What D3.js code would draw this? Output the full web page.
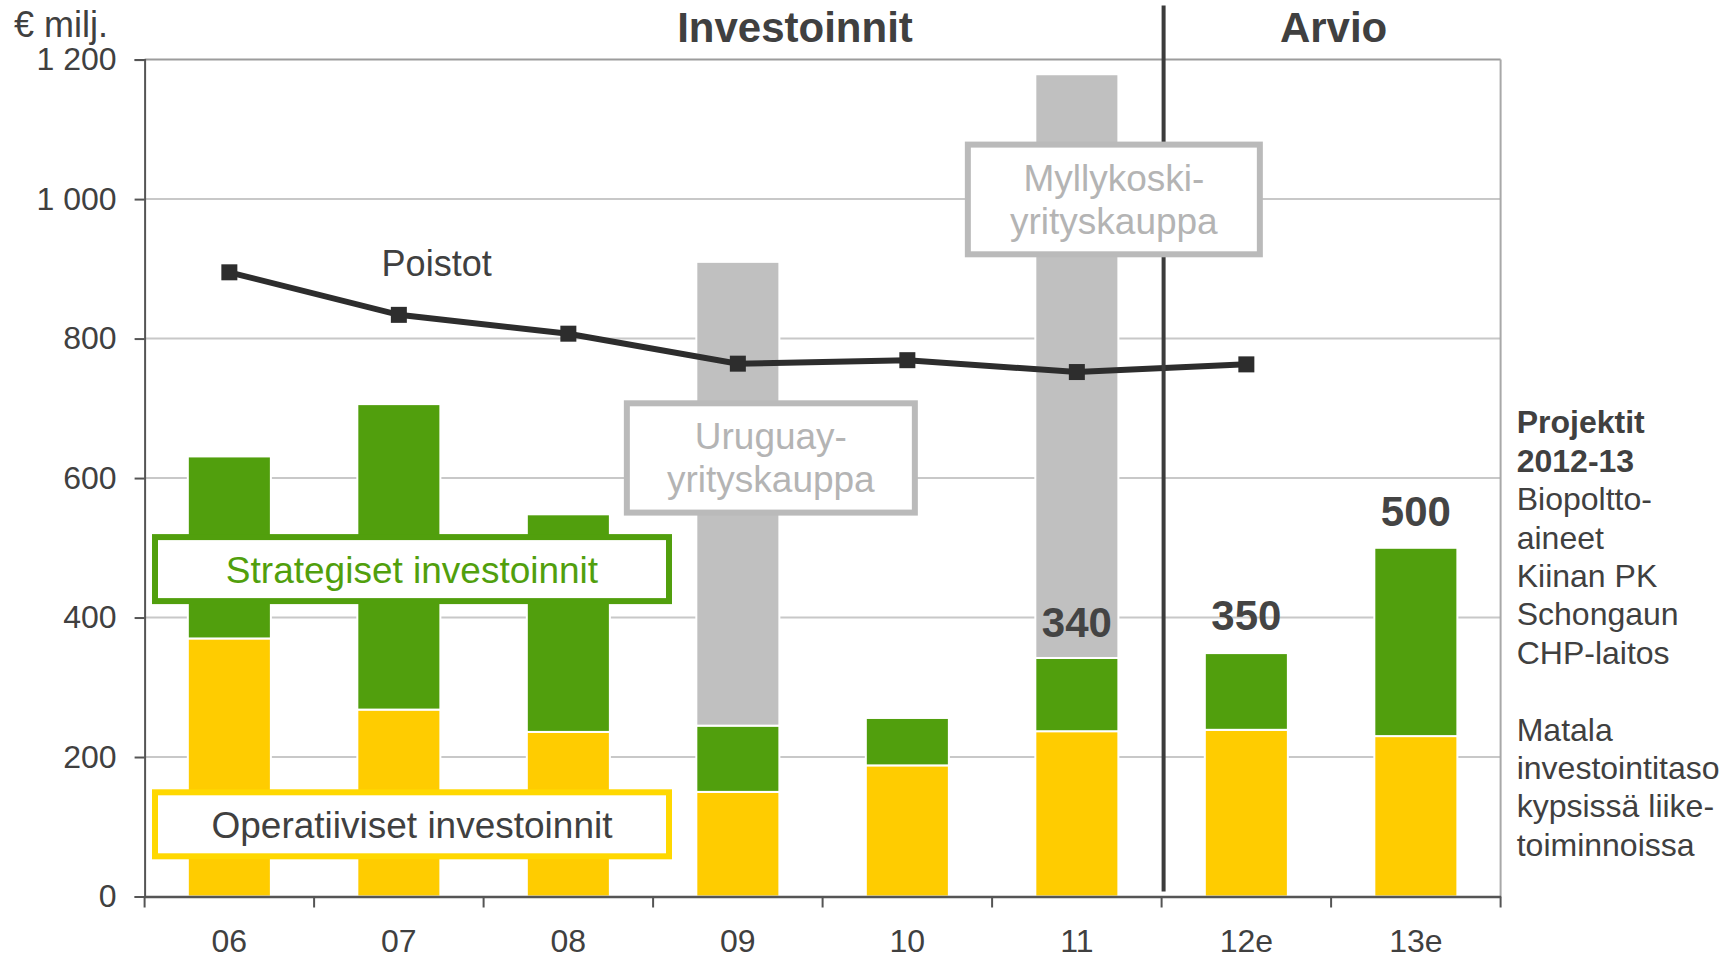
<!DOCTYPE html>
<html>
<head>
<meta charset="utf-8">
<script src="https://cdn.jsdelivr.net/npm/d3@7"></script>
<style>
  body { margin: 0; background: #fff; }
  svg { display: block; font-family: "Liberation Sans", Arial, sans-serif; }
</style>
</head>
<body>
<svg id="chart" width="1731" height="960"></svg>
<script>
// data (€ milj.)
const years = ['06', '07', '08', '09', '10', '11', '12e', '13e'];
const operatiiviset = [370, 268, 236, 150, 188, 237, 239, 230];
const strategiset = [261, 438, 312, 95, 68, 105, 110, 270];
const yrityskaupat = [0, 0, 0, 665, 0, 837, 0, 0];
const poistot = [895, 834, 807, 764, 769, 752, 763, null];
const summaLabels = [null, null, null, null, null, 340, 350, 500];
const yTicks = [0, 200, 400, 600, 800, 1000, 1200];
const projektit = ['Biopoltto-', 'aineet', 'Kiinan PK', 'Schongaun', 'CHP-laitos', '',
  'Matala', 'investointitaso', 'kypsissä liike-', 'toiminnoissa'];

const green = '#519f0d';
const yellow = '#ffcc00';
const grey = '#c0c0c0';
const textCol = '#404040';

const margin = { top: 59.6, right: 230.4, bottom: 63.5, left: 144.6 };
const width = 1731 - margin.left - margin.right;
const height = 960 - margin.top - margin.bottom;

const svg = d3.select('#chart');
const g = svg.append('g').attr('transform', `translate(${margin.left},${margin.top})`);

const x = d3.scaleBand().domain(years).range([0, width]).paddingInner(0.51).paddingOuter(0.255);
const y = d3.scaleLinear().domain([0, 1200]).range([height, 0]);

// gridlines
g.append('g')
  .selectAll('line')
  .data(yTicks.filter(d => d > 0))
  .join('line')
  .attr('x1', 0).attr('x2', width)
  .attr('y1', d => y(d)).attr('y2', d => y(d))
  .attr('stroke', d => d === 1200 ? '#9c9c9c' : '#c8c8c8')
  .attr('stroke-width', 2);

// right frame
g.append('line')
  .attr('x1', width).attr('x2', width)
  .attr('y1', 0).attr('y2', height)
  .attr('stroke', '#a8a8a8').attr('stroke-width', 2);

// stacked bars
const rows = years.map((yr, i) => ({
  yr,
  segs: [
    { y0: 0, y1: operatiiviset[i], c: yellow },
    { y0: operatiiviset[i], y1: operatiiviset[i] + strategiset[i], c: green },
    { y0: operatiiviset[i] + strategiset[i], y1: operatiiviset[i] + strategiset[i] + yrityskaupat[i], c: grey }
  ].filter(s => s.y1 > s.y0)
}));

g.append('g')
  .selectAll('g')
  .data(rows)
  .join('g')
  .attr('transform', d => `translate(${x(d.yr)},0)`)
  .selectAll('rect')
  .data(d => d.segs)
  .join('rect')
  .attr('x', 0)
  .attr('width', x.bandwidth())
  .attr('y', d => y(d.y1))
  .attr('height', d => y(d.y0) - y(d.y1))
  .attr('fill', d => d.c)
  .attr('stroke', '#fff')
  .attr('stroke-width', 2);

// axes
const yAxis = g.append('g')
  .call(d3.axisLeft(y).tickValues(yTicks).tickSize(10).tickPadding(18)
    .tickFormat(d => d3.format(',')(d).replace(',', ' ')));
yAxis.select('.domain').attr('stroke', '#555').attr('stroke-width', 2);
yAxis.selectAll('.tick line').attr('stroke', '#555').attr('stroke-width', 2);
yAxis.selectAll('text').attr('font-size', 32).attr('fill', textCol).attr('font-family', 'Liberation Sans, Arial, sans-serif');

const xAxis = g.append('g')
  .attr('transform', `translate(0,${height})`)
  .call(d3.axisBottom(x).tickSize(0).tickPadding(33));
xAxis.select('.domain').attr('stroke', '#555').attr('stroke-width', 2.5);
xAxis.selectAll('text').attr('font-size', 32).attr('fill', textCol).attr('font-family', 'Liberation Sans, Arial, sans-serif');

// boundary ticks between categories
g.append('g')
  .selectAll('line')
  .data(d3.range(years.length + 1))
  .join('line')
  .attr('x1', i => i * x.step()).attr('x2', i => i * x.step())
  .attr('y1', height).attr('y2', height + 11)
  .attr('stroke', '#555').attr('stroke-width', 2);

// Poistot line
const pts = years.map((yr, i) => ({ yr, v: poistot[i] })).filter(d => d.v != null);
const cx = d => x(d.yr) + x.bandwidth() / 2;

g.append('path')
  .datum(pts)
  .attr('fill', 'none')
  .attr('stroke', '#2d2d2d')
  .attr('stroke-width', 6)
  .attr('d', d3.line().x(cx).y(d => y(d.v)));

g.append('g')
  .selectAll('rect')
  .data(pts)
  .join('rect')
  .attr('x', d => cx(d) - 8)
  .attr('y', d => y(d.v) - 8)
  .attr('width', 16).attr('height', 16)
  .attr('fill', '#2d2d2d');

g.append('text')
  .attr('x', 237).attr('y', 216)
  .attr('font-size', 36).attr('fill', textCol)
  .text('Poistot');

// divider between actuals and estimate
const divX = x('12e') - x.step() * x.paddingInner() / 2 + 2;
g.append('line')
  .attr('x1', divX).attr('x2', divX)
  .attr('y1', -54).attr('y2', height - 5)
  .attr('stroke', '#3c3c3c').attr('stroke-width', 4);

// grey acquisition call-outs
function callout(cxPos, top, bottom, w, lines) {
  const gr = g.append('g');
  gr.append('rect')
    .attr('x', cxPos - w / 2 + 3).attr('y', top + 3)
    .attr('width', w - 6).attr('height', bottom - top - 6)
    .attr('fill', '#fff').attr('stroke', '#bababa').attr('stroke-width', 6);
  gr.selectAll('text')
    .data(lines)
    .join('text')
    .attr('x', cxPos)
    .attr('y', (d, i) => top + 49 + i * 43)
    .attr('text-anchor', 'middle')
    .attr('font-size', 37)
    .attr('fill', '#b4b4b4')
    .text(d => d);
}
callout(x('09') + x.bandwidth() / 2 + 33, 340.7, 456, 294, ['Uruguay-', 'yrityskauppa']);
callout(x('11') + x.bandwidth() / 2 + 37, 82, 197.7, 298, ['Myllykoski-', 'yrityskauppa']);

// series legend boxes
function legendBox(top, stroke, col, label) {
  const gr = g.append('g');
  gr.append('rect')
    .attr('x', 7.4 + 3).attr('y', top + 3)
    .attr('width', 520 - 6).attr('height', 70 - 6)
    .attr('fill', '#fff').attr('stroke', stroke).attr('stroke-width', 6);
  gr.append('text')
    .attr('x', 7.4 + 260).attr('y', top + 48.5)
    .attr('text-anchor', 'middle')
    .attr('font-size', 37)
    .attr('fill', col)
    .text(label);
}
legendBox(474.5, green, green, 'Strategiset investoinnit');
legendBox(729.7, '#ffd800', textCol, 'Operatiiviset investoinnit');

// totals above bars
g.append('g')
  .selectAll('text')
  .data(years.map((yr, i) => ({ yr, v: summaLabels[i] })).filter(d => d.v != null))
  .join('text')
  .attr('x', d => x(d.yr) + x.bandwidth() / 2)
  .attr('y', d => y(d.v) - 22)
  .attr('text-anchor', 'middle')
  .attr('font-size', 42)
  .attr('font-weight', 'bold')
  .attr('fill', '#444')
  .text(d => d.v);

// headings
svg.append('text')
  .attr('x', 14).attr('y', 37)
  .attr('font-size', 36).attr('fill', textCol)
  .text('€ milj.');

svg.append('text')
  .attr('x', 795).attr('y', 41.7)
  .attr('text-anchor', 'middle')
  .attr('font-size', 42).attr('font-weight', 'bold').attr('fill', textCol)
  .text('Investoinnit');

svg.append('text')
  .attr('x', 1333.6).attr('y', 41.7)
  .attr('text-anchor', 'middle')
  .attr('font-size', 42).attr('font-weight', 'bold').attr('fill', textCol)
  .text('Arvio');

// right side notes
const notes = svg.append('g').attr('font-size', 32).attr('fill', textCol);
notes.selectAll('text.head')
  .data(['Projektit', '2012-13'])
  .join('text')
  .attr('class', 'head')
  .attr('x', 1516.7)
  .attr('y', (d, i) => 433.3 + i * 38.4)
  .attr('font-weight', 'bold')
  .text(d => d);
notes.selectAll('text.item')
  .data(projektit)
  .join('text')
  .attr('class', 'item')
  .attr('x', 1516.7)
  .attr('y', (d, i) => 433.3 + (i + 2) * 38.4)
  .text(d => d);
</script>
</body>
</html>
